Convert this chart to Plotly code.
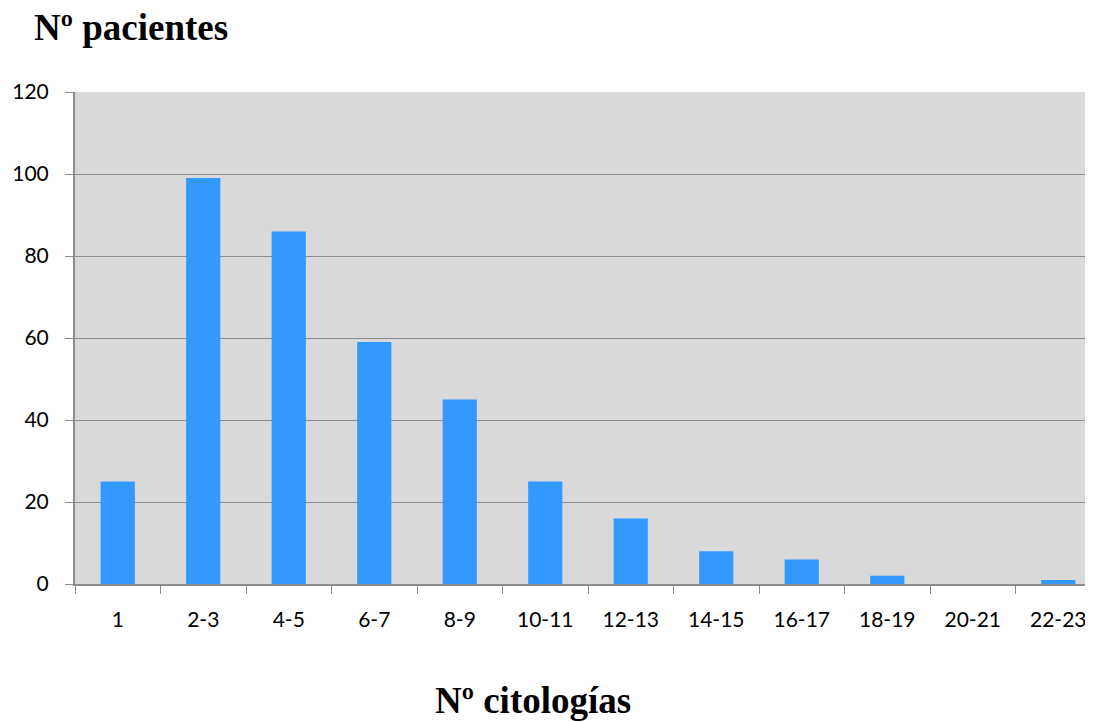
import plotly.graph_objects as go

categories = ["1", "2-3", "4-5", "6-7", "8-9", "10-11", "12-13", "14-15", "16-17", "18-19", "20-21", "22-23"]
patients = [25, 99, 86, 59, 45, 25, 16, 8, 6, 2, 0, 1]
y_title = "Nº pacientes"
x_title = "Nº citologías"

fig = go.Figure(go.Bar(x=categories, y=patients, marker=dict(color="#3399ff", line=dict(width=0))))

fig.update_layout(
    width=1093, height=714,
    margin=dict(l=67, r=0, t=84, b=138),
    paper_bgcolor="white", plot_bgcolor="#d9d9d9",
    bargap=0.6, showlegend=False,
    font=dict(family="Lato, Open Sans, sans-serif", size=21, color="black"),
    annotations=[
        dict(text="<b>" + y_title + "</b>", xref="paper", yref="paper", x=-0.0423, y=1.0, yshift=65,
             xanchor="left", yanchor="middle", showarrow=False,
             font=dict(family="Liberation Serif, Times New Roman, serif", size=37, color="black")),
        dict(text="<b>" + x_title + "</b>", xref="paper", yref="paper", x=0.446, y=0, yshift=-116,
             xanchor="center", yanchor="middle", showarrow=False,
             font=dict(family="Liberation Serif, Times New Roman, serif", size=37, color="black")),
    ],
)
fig.update_xaxes(
    type="category", tickson="boundaries", ticks="outside", ticklen=8, tickcolor="#8c8c8c",
    showline=True, linecolor="#8c8c8c", linewidth=2, showgrid=False, ticklabelstandoff=16,
)
fig.update_yaxes(
    range=[0, 120], dtick=20, ticks="outside", ticklen=8, tickcolor="#8c8c8c",
    showline=True, linecolor="#8c8c8c", linewidth=2, showgrid=True, gridcolor="#8c8c8c", gridwidth=1,
    zeroline=False, ticklabelstandoff=12,
)
fig.write_html("out.html")
